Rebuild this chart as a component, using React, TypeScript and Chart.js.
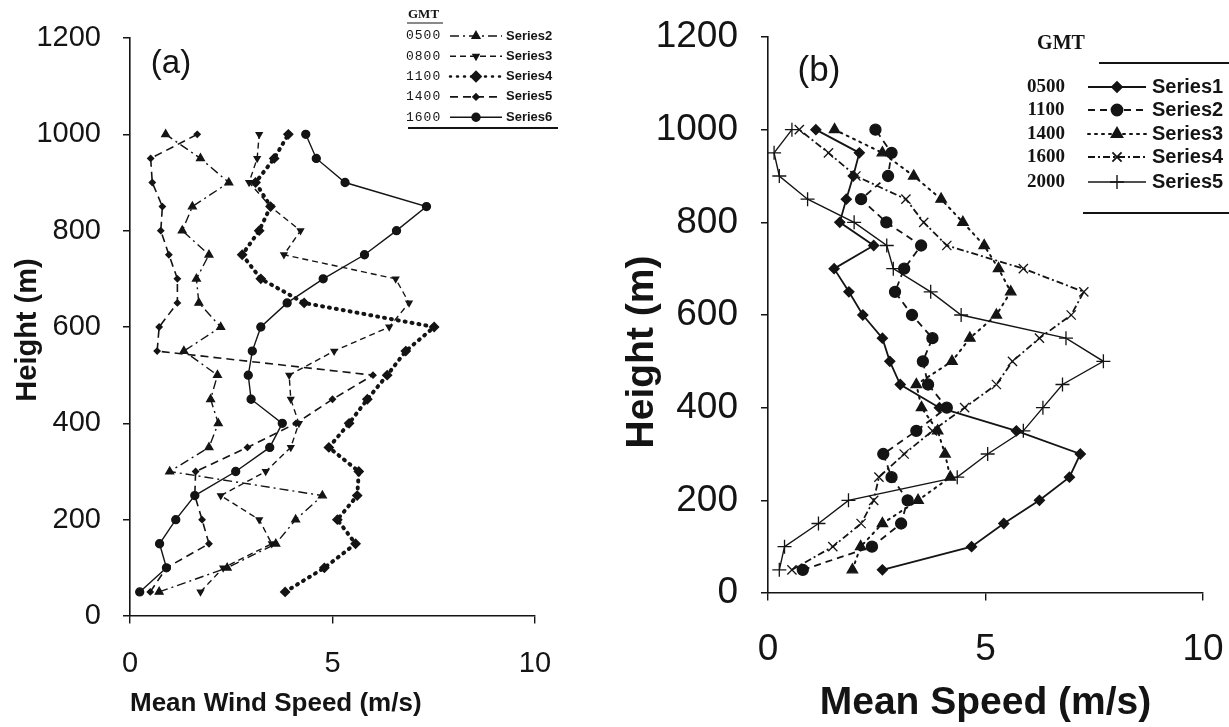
import React, { useEffect, useRef } from 'react';
import { Chart, registerables } from 'chart.js';
import { drawPoint } from 'chart.js/helpers';

Chart.register(...registerables);

// ---------- data ----------
const HEIGHTS = [50, 100, 150, 200, 250, 300, 350, 400, 450, 500, 550, 600, 650, 700, 750, 800, 850, 900, 950, 1000];
const X_TICKS = [0, 5, 10];
const Y_TICKS = [0, 200, 400, 600, 800, 1000, 1200];

// panel (a)
const A_TIMES = ['0500', '0800', '1100', '1400', '1600'];
const A_NAMES = ['Series2', 'Series3', 'Series4', 'Series5', 'Series6'];
const A_S2 = [0.72, 2.4, 3.6, 4.09, 4.75, 0.98, 1.95, 2.18, 1.99, 2.16, 1.33, 2.24, 1.7, 1.64, 1.95, 1.29, 1.54, 2.44, 1.74, 0.88];
const A_S3 = [1.74, 2.3, 3.5, 3.19, 2.24, 3.35, 3.97, 4.17, 3.97, 3.93, 5.04, 6.4, 6.89, 6.56, 3.8, 4.21, 3.47, 2.94, 3.14, 3.19];
const A_S4 = [3.83, 4.8, 5.57, 5.12, 5.61, 5.65, 4.91, 5.41, 5.86, 6.35, 6.81, 7.51, 4.3, 3.23, 2.77, 3.19, 3.47, 3.1, 3.56, 3.91];
const A_S5 = [0.5, 0.9, 1.95, 1.78, 1.6, 1.62, 2.9, 4.1, 5.0, 6.0, 0.67, 0.72, 1.17, 1.17, 0.96, 0.76, 0.8, 0.55, 0.51, 1.66];
const A_S6 = [0.24, 0.9, 0.73, 1.13, 1.6, 2.61, 3.45, 3.76, 2.99, 2.92, 3.02, 3.23, 3.88, 4.77, 5.79, 6.58, 7.32, 5.31, 4.6, 4.34];

// panel (b)
const B_TIMES = ['0500', '1100', '1400', '1600', '2000'];
const B_NAMES = ['Series1', 'Series2', 'Series3', 'Series4', 'Series5'];
const B_S1 = [2.63, 4.68, 5.42, 6.24, 6.93, 7.18, 5.71, 3.94, 3.04, 2.8, 2.63, 2.18, 1.86, 1.52, 2.43, 1.65, 1.8, 1.96, 2.1, 1.1];
const B_S2 = [0.8, 2.39, 3.06, 3.21, 2.84, 2.65, 3.41, 4.11, 3.68, 3.56, 3.78, 3.31, 2.92, 3.13, 3.52, 2.72, 2.14, 2.76, 2.84, 2.47];
const B_S3 = [1.94, 2.13, 2.63, 3.45, 4.19, 4.07, 3.9, 3.53, 3.41, 4.23, 4.64, 5.25, 5.58, 5.3, 4.97, 4.48, 3.98, 3.35, 2.63, 1.53];
const B_S4 = [0.55, 1.49, 2.14, 2.43, 2.55, 3.13, 3.78, 4.52, 5.25, 5.62, 6.24, 6.97, 7.26, 5.87, 4.11, 3.58, 3.17, 2.02, 1.39, 0.72];
const B_S5 = [0.26, 0.38, 1.16, 1.85, 4.35, 5.05, 5.87, 6.32, 6.77, 7.71, 6.85, 4.44, 3.74, 2.88, 2.73, 1.98, 0.91, 0.26, 0.14, 0.55];

// ---------- styles ----------
const INK = '#141414';
const SANS = "'Liberation Sans', Arial, sans-serif";
const SERIF = "'Liberation Serif', 'Times New Roman', serif";
const MONO = "'Liberation Mono', 'Courier New', monospace";

type Sty = { dash: number[]; width: number; point: string; radius: number; rot?: number; cap?: CanvasLineCap };

const A_STY: Sty[] = [
  { dash: [9, 4, 2, 4], width: 1.4, point: 'triangle', radius: 4.5 },
  { dash: [6, 4], width: 1.4, point: 'triangle', radius: 3.5, rot: 180 },
  { dash: [1, 6], width: 4, point: 'rectRot', radius: 4.5, cap: 'round' },
  { dash: [8, 5], width: 1.6, point: 'rectRot', radius: 3 },
  { dash: [], width: 1.4, point: 'circle', radius: 4 },
];
const B_STY: Sty[] = [
  { dash: [], width: 1.8, point: 'rectRot', radius: 5 },
  { dash: [7, 5], width: 1.8, point: 'circle', radius: 5.5 },
  { dash: [2, 5], width: 2, point: 'triangle', radius: 6, cap: 'round' },
  { dash: [7, 3, 2, 3], width: 1.8, point: 'crossRot', radius: 6.5 },
  { dash: [], width: 1.4, point: 'cross', radius: 7 },
];

type Panel = {
  width: number; plotLeft: number; plotRight: number; plotTop: number; plotBottom: number;
  series: number[][]; names: string[]; sty: Sty[];
  tickFont: number; yTickGap: number; xTickGap: number;
  xTitle: string; xTitleFont: number; xTitleAlign: 'start' | 'center'; xTitlePad: number;
  decor: (ctx: CanvasRenderingContext2D) => void;
};

const TICK = 7;

function pointOpts(s: Sty) {
  return { pointStyle: s.point as any, radius: s.radius, rotation: s.rot || 0, borderWidth: 1.3 };
}

function legendSample(ctx: CanvasRenderingContext2D, s: Sty, x0: number, x1: number, y: number) {
  ctx.save();
  ctx.strokeStyle = INK;
  ctx.fillStyle = INK;
  ctx.lineWidth = Math.min(s.width, 2.5);
  ctx.lineCap = s.cap || 'butt';
  ctx.setLineDash(s.dash);
  ctx.beginPath();
  ctx.moveTo(x0, y);
  ctx.lineTo(x1, y);
  ctx.stroke();
  ctx.setLineDash([]);
  drawPoint(ctx, pointOpts(s), (x0 + x1) / 2, y);
  ctx.restore();
}

function vText(ctx: CanvasRenderingContext2D, text: string, x: number, y: number, font: string) {
  ctx.save();
  ctx.translate(x, y);
  ctx.rotate(-Math.PI / 2);
  ctx.font = font;
  ctx.textAlign = 'center';
  ctx.textBaseline = 'middle';
  ctx.fillText(text, 0, 0);
  ctx.restore();
}

const PANEL_A: Panel = {
  width: 615, plotLeft: 130, plotRight: 535, plotTop: 38, plotBottom: 616,
  series: [A_S2, A_S3, A_S4, A_S5, A_S6], names: A_NAMES, sty: A_STY,
  tickFont: 29, yTickGap: 29, xTickGap: 31,
  xTitle: 'Mean Wind Speed (m/s)', xTitleFont: 26, xTitleAlign: 'start', xTitlePad: 9,
  decor: (ctx) => {
    ctx.fillStyle = INK;
    ctx.strokeStyle = INK;
    vText(ctx, 'Height (m)', 28, 330, `bold 29px ${SANS}`);
    ctx.textBaseline = 'middle';
    ctx.textAlign = 'center';
    ctx.font = `33px ${SANS}`;
    ctx.fillText('(a)', 171, 64);
    // legend
    ctx.textAlign = 'left';
    ctx.font = `bold 13px ${SERIF}`;
    ctx.fillText('GMT', 408, 15);
    ctx.lineWidth = 1.2;
    ctx.beginPath(); ctx.moveTo(407, 23); ctx.lineTo(443, 23); ctx.stroke();
    for (let i = 0; i < A_TIMES.length; i++) {
      const y = 36 + i * 20.3;
      ctx.font = `13px ${MONO}`;
      (ctx as any).letterSpacing = '1px';
      ctx.fillText(A_TIMES[i], 406, y);
      (ctx as any).letterSpacing = '0px';
      legendSample(ctx, A_STY[i], 450, 502, y);
      ctx.font = `bold 13px ${SANS}`;
      ctx.fillText(A_NAMES[i], 506, y);
    }
    ctx.lineWidth = 2;
    ctx.beginPath(); ctx.moveTo(408, 128); ctx.lineTo(558, 128); ctx.stroke();
  },
};

const PANEL_B: Panel = {
  width: 614, plotLeft: 153, plotRight: 588, plotTop: 37, plotBottom: 593,
  series: [B_S1, B_S2, B_S3, B_S4, B_S5], names: B_NAMES, sty: B_STY,
  tickFont: 37, yTickGap: 30, xTickGap: 35,
  xTitle: 'Mean Speed (m/s)', xTitleFont: 39, xTitleAlign: 'center', xTitlePad: 2,
  decor: (ctx) => {
    ctx.fillStyle = INK;
    ctx.strokeStyle = INK;
    vText(ctx, 'Height (m)', 27, 352, `bold 39px ${SANS}`);
    ctx.textBaseline = 'middle';
    ctx.textAlign = 'center';
    ctx.font = `35px ${SANS}`;
    ctx.fillText('(b)', 204, 71);
    ctx.font = `bold 20px ${SERIF}`;
    ctx.fillText('GMT', 446, 44);
    ctx.lineWidth = 2;
    ctx.beginPath(); ctx.moveTo(484, 63); ctx.lineTo(614, 63); ctx.stroke();
    const ys = [87, 110, 134, 157, 182];
    for (let i = 0; i < B_TIMES.length; i++) {
      const y = ys[i];
      ctx.textAlign = 'center';
      ctx.font = `bold 19px ${SERIF}`;
      ctx.fillText(B_TIMES[i], 431, y);
      legendSample(ctx, B_STY[i], 473, 531, y);
      ctx.textAlign = 'left';
      ctx.font = `bold 20px ${SANS}`;
      ctx.fillText(B_NAMES[i], 537, y);
    }
    ctx.lineWidth = 2;
    ctx.beginPath(); ctx.moveTo(468, 213); ctx.lineTo(614, 213); ctx.stroke();
  },
};

function makeConfig(p: Panel): any {
  const H = 727;
  return {
    type: 'scatter',
    data: {
      datasets: p.series.map((vals, i) => ({
        label: p.names[i],
        data: HEIGHTS.map((h, k) => ({ x: vals[k], y: h })),
        showLine: true,
        borderColor: INK,
        backgroundColor: INK,
        borderWidth: p.sty[i].width,
        borderDash: p.sty[i].dash,
        borderCapStyle: p.sty[i].cap || 'butt',
        pointStyle: p.sty[i].point,
        pointRadius: p.sty[i].radius,
        pointRotation: p.sty[i].rot || 0,
        pointBorderWidth: 1.3,
        pointBackgroundColor: INK,
        pointBorderColor: INK,
        tension: 0,
      })),
    },
    options: {
      animation: false,
      responsive: false,
      devicePixelRatio: 1,
      layout: { padding: { left: 0, top: p.plotTop, right: p.width - p.plotRight, bottom: 0 } },
      plugins: { legend: { display: false }, tooltip: { enabled: false } },
      scales: {
        x: {
          type: 'linear', min: 0, max: 10,
          afterBuildTicks: (s: any) => { s.ticks = X_TICKS.map((v) => ({ value: v })); },
          afterFit: (s: any) => { s.height = H - p.plotBottom; },
          border: { color: INK, width: 1.6 },
          grid: {
            drawOnChartArea: false, drawTicks: true, tickLength: p.xTickGap, color: INK, lineWidth: 1.4,
            tickBorderDash: [TICK, 1000],
          },
          ticks: { color: INK, font: { family: SANS, size: p.tickFont }, padding: 0, maxRotation: 0, callback: (v: any) => String(v) },
          title: {
            display: true, text: p.xTitle, align: p.xTitleAlign, color: INK,
            font: { family: SANS, size: p.xTitleFont, weight: 'bold', lineHeight: 1.1 },
            padding: { top: p.xTitlePad, bottom: p.xTitlePad },
          },
        },
        y: {
          type: 'linear', min: 0, max: 1200,
          afterBuildTicks: (s: any) => { s.ticks = Y_TICKS.map((v) => ({ value: v })); },
          afterFit: (s: any) => { s.width = p.plotLeft; },
          border: { color: INK, width: 1.6 },
          grid: {
            drawOnChartArea: false, drawTicks: true, tickLength: p.yTickGap, color: INK, lineWidth: 1.4,
            tickBorderDash: [0, p.yTickGap - TICK, TICK, 1000],
          },
          ticks: { color: INK, font: { family: SANS, size: p.tickFont }, padding: 0, callback: (v: any) => String(v) },
          title: { display: false },
        },
      },
    },
    plugins: [{
      id: 'decor',
      afterDraw(chart: any) {
        const ctx = chart.ctx as CanvasRenderingContext2D;
        ctx.save();
        p.decor(ctx);
        ctx.restore();
      },
    }],
  };
}

function PanelChart({ panel, left }: { panel: Panel; left: number }) {
  const ref = useRef<HTMLCanvasElement>(null);
  useEffect(() => {
    const chart = new Chart(ref.current as HTMLCanvasElement, makeConfig(panel));
    return () => chart.destroy();
  }, [panel]);
  return (
    <canvas
      ref={ref}
      width={panel.width}
      height={727}
      style={{ position: 'absolute', left, top: 0, width: panel.width, height: 727 }}
    />
  );
}

export default function App() {
  return (
    <div style={{ position: 'absolute', left: 0, top: 0, width: 1229, height: 727, background: '#fff', overflow: 'hidden' }}>
      <PanelChart panel={PANEL_A} left={0} />
      <PanelChart panel={PANEL_B} left={615} />
    </div>
  );
}
